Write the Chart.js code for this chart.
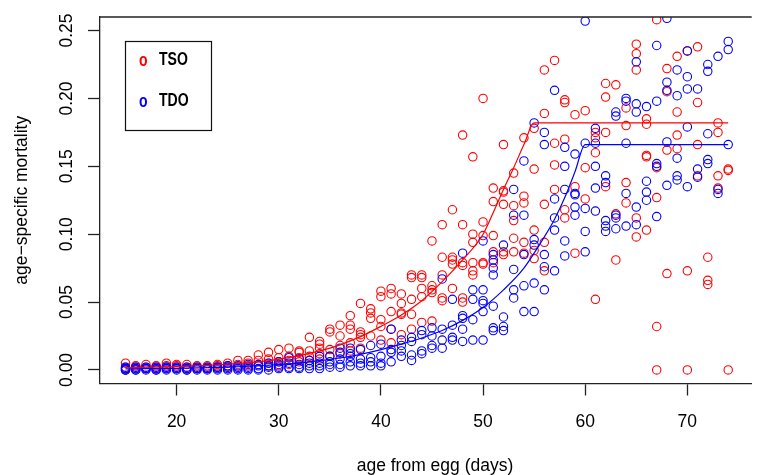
<!DOCTYPE html>
<html>
<head>
<meta charset="utf-8">
<script src="https://cdn.jsdelivr.net/npm/chart.js@4.4.0/dist/chart.umd.min.js"></script>
<style>
  html, body { margin: 0; padding: 0; background: #fff; }
  #wrap { width: 757px; height: 475px; }
</style>
</head>
<body>
<div id="wrap"><canvas id="myChart" width="757" height="475"></canvas></div>
<script>
// age from egg, one entry per day
const days = [15, 16, 17, 18, 19, 20, 21, 22, 23, 24, 25, 26, 27, 28, 29, 30, 31, 32, 33, 34,
              35, 36, 37, 38, 39, 40, 41, 42, 43, 44, 45, 46, 47, 48, 49, 50, 51, 52, 53, 54,
              55, 56, 57, 58, 59, 60, 61, 62, 63, 64, 65, 66, 67, 68, 69, 70, 71, 72, 73, 74];

// observed age-specific mortality for each day (replicates)
const tsoRates = [
  [0.005, 0.002, 0.001, 0.000], [0.003, 0.002, 0.001], [0.004, 0.002, 0.001], [0.003, 0.002, 0.001],
  [0.005, 0.003, 0.001], [0.004, 0.003, 0.002], [0.004, 0.002, 0.001], [0.003, 0.002, 0.001],
  [0.003, 0.002, 0.001], [0.004, 0.003, 0.002], [0.005, 0.003, 0.002], [0.007, 0.004, 0.002],
  [0.007, 0.005, 0.003], [0.011, 0.007, 0.004], [0.013, 0.008, 0.005, 0.003], [0.015, 0.009, 0.006, 0.003],
  [0.016, 0.010, 0.007, 0.004], [0.014, 0.013, 0.009, 0.006], [0.024, 0.014, 0.010, 0.007],
  [0.021, 0.019, 0.016, 0.012, 0.008], [0.030, 0.028, 0.015, 0.010], [0.033, 0.025, 0.018, 0.012],
  [0.040, 0.033, 0.030, 0.020, 0.014], [0.049, 0.028, 0.026, 0.024, 0.016], [0.045, 0.042, 0.038, 0.025],
  [0.058, 0.054, 0.037, 0.032, 0.022], [0.060, 0.056, 0.043, 0.030, 0.020], [0.056, 0.049, 0.042, 0.041, 0.026],
  [0.070, 0.068, 0.052, 0.041, 0.030], [0.070, 0.068, 0.060, 0.054, 0.035], [0.095, 0.062, 0.059, 0.057, 0.036],
  [0.107, 0.083, 0.070, 0.053, 0.051], [0.118, 0.083, 0.081, 0.078, 0.060], [0.173, 0.107, 0.079, 0.077, 0.053, 0.050],
  [0.157, 0.100, 0.094, 0.079, 0.073, 0.070], [0.200, 0.109, 0.099, 0.079, 0.078], [0.134, 0.124, 0.099, 0.087, 0.079],
  [0.166, 0.132, 0.131, 0.122, 0.087, 0.085], [0.145, 0.121, 0.110, 0.097, 0.087], [0.171, 0.128, 0.123, 0.094, 0.086],
  [0.178, 0.148, 0.103, 0.088, 0.082], [0.221, 0.189, 0.122, 0.094, 0.073], [0.228, 0.167, 0.151, 0.133],
  [0.199, 0.197, 0.170, 0.118, 0.112], [0.188, 0.135, 0.086], [0.191, 0.149, 0.126], [0.175, 0.171, 0.160, 0.052],
  [0.211, 0.201, 0.175, 0.135], [0.210, 0.115, 0.081], [0.193, 0.180, 0.138, 0.123], [0.240, 0.233, 0.221, 0.112, 0.098],
  [0.185, 0.181, 0.158, 0.157, 0.103], [0.258, 0.149, 0.127, 0.032, 0.000], [0.222, 0.205, 0.162, 0.071],
  [0.231, 0.190, 0.173, 0.163], [0.235, 0.073, 0.000], [0.238, 0.197, 0.166, 0.143], [0.083, 0.066, 0.063],
  [0.182, 0.175, 0.143, 0.134], [0.148, 0.147, 0.000]
];

const tdoRates = [
  [0.002, 0.001, 0.001, 0.000, 0.000], [0.002, 0.001, 0.000, 0.000], [0.002, 0.001, 0.001, 0.000], [0.002, 0.001, 0.000, 0.000],
  [0.002, 0.002, 0.001, 0.000], [0.002, 0.001, 0.001, 0.000], [0.002, 0.001, 0.000, 0.000], [0.002, 0.001, 0.001, 0.000],
  [0.002, 0.001, 0.001, 0.000], [0.002, 0.002, 0.001, 0.000], [0.003, 0.002, 0.001, 0.000], [0.003, 0.002, 0.001, 0.000],
  [0.004, 0.002, 0.001, 0.000], [0.004, 0.003, 0.001, 0.000], [0.005, 0.003, 0.002, 0.000], [0.006, 0.004, 0.002, 0.001],
  [0.009, 0.005, 0.002, 0.001], [0.008, 0.004, 0.002, 0.001], [0.007, 0.005, 0.003, 0.001], [0.010, 0.005, 0.003, 0.001],
  [0.010, 0.006, 0.004, 0.002], [0.016, 0.013, 0.008, 0.004, 0.002], [0.016, 0.012, 0.010, 0.006, 0.003],
  [0.015, 0.008, 0.005, 0.003], [0.018, 0.009, 0.006, 0.003], [0.019, 0.010, 0.005, 0.003], [0.030, 0.015, 0.013, 0.006],
  [0.022, 0.018, 0.014, 0.010], [0.024, 0.021, 0.011, 0.007], [0.029, 0.026, 0.014, 0.012], [0.031, 0.025, 0.018, 0.016],
  [0.067, 0.030, 0.022, 0.016], [0.052, 0.033, 0.024, 0.022], [0.086, 0.040, 0.038, 0.030, 0.021],
  [0.059, 0.052, 0.037, 0.022], [0.095, 0.059, 0.051, 0.049, 0.043, 0.022], [0.085, 0.081, 0.075, 0.070, 0.047, 0.031, 0.029],
  [0.092, 0.039, 0.032, 0.029], [0.133, 0.114, 0.074, 0.059, 0.053], [0.154, 0.114, 0.085, 0.062, 0.043],
  [0.182, 0.096, 0.092, 0.064, 0.043], [0.175, 0.166, 0.085, 0.076, 0.059], [0.206, 0.126, 0.112, 0.103, 0.073],
  [0.164, 0.150, 0.133, 0.095, 0.084], [0.159, 0.130, 0.129, 0.120, 0.114], [0.257, 0.167, 0.119, 0.102, 0.087],
  [0.178, 0.167, 0.150, 0.134, 0.117], [0.143, 0.138, 0.110, 0.106, 0.102], [0.190, 0.187, 0.114, 0.112, 0.104],
  [0.200, 0.198, 0.167, 0.130, 0.106], [0.227, 0.196, 0.190, 0.120, 0.107], [0.194, 0.139, 0.131, 0.125],
  [0.239, 0.198, 0.152, 0.150, 0.113], [0.259, 0.212, 0.206, 0.168, 0.136], [0.221, 0.202, 0.156, 0.143, 0.140],
  [0.235, 0.216, 0.207, 0.179, 0.135], [0.207, 0.148, 0.142], [0.225, 0.220, 0.174, 0.155, 0.152],
  [0.231, 0.133, 0.130], [0.242, 0.236, 0.166]
];

// fitted curves
const tsoFitDays = [15, 20, 25, 28, 30, 32, 34, 36, 38, 40, 42, 44, 46, 48, 50, 51, 52, 53, 54, 55, 74];
const tsoFit = [0.0015, 0.0025, 0.0042, 0.006, 0.0078, 0.0105, 0.014, 0.0185, 0.0245, 0.0321, 0.0405,
                0.051, 0.065, 0.081, 0.100, 0.116, 0.133, 0.149, 0.166, 0.182, 0.182];
const tdoFitDays = [15, 20, 25, 30, 32, 34, 36, 38, 40, 42, 44, 46, 48, 50, 52, 54, 56, 57, 58, 59, 60, 74];
const tdoFit = [0.0008, 0.0012, 0.002, 0.004, 0.0052, 0.0068, 0.0088, 0.0115, 0.015, 0.019, 0.0235,
                0.029, 0.0365, 0.046, 0.059, 0.075, 0.098, 0.111, 0.127, 0.146, 0.166, 0.166];

const xTicks = [20, 30, 40, 50, 60, 70];
const yTicks = [0, 0.05, 0.10, 0.15, 0.20, 0.25];
const yTickLabels = ['0.00', '0.05', '0.10', '0.15', '0.20', '0.25'];

const RED = '#FF0000';
const BLUE = '#0000FF';
const AXIS = '#222222';
const FONT = '"Liberation Sans", Arial, Helvetica, sans-serif';

function toPoints(xs, rows) {
  const pts = [];
  xs.forEach((d, i) => rows[i].forEach(v => pts.push({x: d, y: v})));
  return pts;
}
function toLine(xs, ys) {
  return xs.map((d, i) => ({x: d, y: ys[i]}));
}

// narrow bold text for the legend
function legendText(ctx, txt, x, y, color) {
  ctx.save();
  ctx.translate(x, y);
  ctx.scale(0.78, 1);
  ctx.fillStyle = color;
  ctx.fillText(txt, 0, 0);
  ctx.restore();
}

// rotated y labels, axis titles, top edge of the box and the legend
const extras = {
  id: 'extras',
  afterDraw(chart) {
    const {ctx, chartArea, scales} = chart;
    ctx.save();
    ctx.strokeStyle = AXIS;
    ctx.lineWidth = 1.3;
    ctx.beginPath();
    ctx.moveTo(chartArea.left, chartArea.top);
    ctx.lineTo(chartArea.right, chartArea.top);
    ctx.stroke();

    ctx.fillStyle = '#000';
    ctx.font = '17.5px ' + FONT;
    ctx.textAlign = 'center';
    ctx.textBaseline = 'middle';
    yTicks.forEach((v, i) => {
      ctx.save();
      ctx.translate(67, scales.y.getPixelForValue(v));
      ctx.rotate(-Math.PI / 2);
      ctx.fillText(yTickLabels[i], 0, 0);
      ctx.restore();
    });

    ctx.save();
    ctx.translate(22, (chartArea.top + chartArea.bottom) / 2);
    ctx.rotate(-Math.PI / 2);
    ctx.fillText('age\u2212specific mortality', 0, 0);
    ctx.restore();

    ctx.textBaseline = 'alphabetic';
    ctx.fillText('age from egg (days)', 435, 471);

    // legend
    ctx.lineWidth = 1.2;
    ctx.strokeStyle = '#111';
    ctx.strokeRect(125.5, 41.5, 86, 89);
    ctx.font = 'bold 18px ' + FONT;
    ctx.textAlign = 'left';
    ctx.textBaseline = 'middle';
    legendText(ctx, 'o', 139, 61, RED);
    legendText(ctx, 'o', 139, 102, BLUE);
    legendText(ctx, 'TSO', 159, 60, '#000');
    legendText(ctx, 'TDO', 159, 101, '#000');
    ctx.restore();
  }
};

const ctx = 'myChart';
const myChart = new Chart(ctx, {
  type: 'scatter',
  data: {
    datasets: [
      {
        label: 'TSO fit',
        data: toLine(tsoFitDays, tsoFit),
        showLine: true,
        borderColor: RED,
        borderWidth: 1.2,
        pointRadius: 0,
        cubicInterpolationMode: 'monotone',
        order: 0
      },
      {
        label: 'TDO fit',
        data: toLine(tdoFitDays, tdoFit),
        showLine: true,
        borderColor: BLUE,
        borderWidth: 1.2,
        pointRadius: 0,
        cubicInterpolationMode: 'monotone',
        order: 0
      },
      {
        label: 'TDO',
        data: toPoints(days, tdoRates),
        borderColor: BLUE,
        backgroundColor: 'rgba(0,0,0,0)',
        pointRadius: 4.2,
        pointBorderWidth: 1.1,
        order: 1
      },
      {
        label: 'TSO',
        data: toPoints(days, tsoRates),
        borderColor: RED,
        backgroundColor: 'rgba(0,0,0,0)',
        pointRadius: 4.2,
        pointBorderWidth: 1.1,
        order: 2
      }
    ]
  },
  options: {
    responsive: false,
    animation: false,
    clip: 0,
    layout: { padding: { top: 17, left: 0, right: 0, bottom: 0 } },
    plugins: { legend: { display: false }, tooltip: { enabled: false } },
    scales: {
      x: {
        type: 'linear',
        min: 12.5,
        max: 76.3,
        afterBuildTicks: s => { s.ticks = xTicks.map(v => ({value: v})); },
        afterFit: s => { s.height = 91.5; },
        grid: { drawOnChartArea: false, tickLength: 12, tickColor: AXIS, tickWidth: 1.3 },
        border: { display: true, color: AXIS, width: 1.3 },
        ticks: { color: '#000', font: { family: FONT, size: 17.5 }, padding: 16, maxRotation: 0, autoSkip: false }
      },
      y: {
        type: 'linear',
        min: -0.01,
        max: 0.26,
        afterBuildTicks: s => { s.ticks = yTicks.map(v => ({value: v})); },
        afterFit: s => { s.width = 100; },
        grid: { drawOnChartArea: false, tickLength: 12, tickColor: AXIS, tickWidth: 1.3 },
        border: { display: true, color: AXIS, width: 1.3 },
        ticks: { display: false }
      }
    }
  },
  plugins: [extras]
});
</script>
</body>
</html>
